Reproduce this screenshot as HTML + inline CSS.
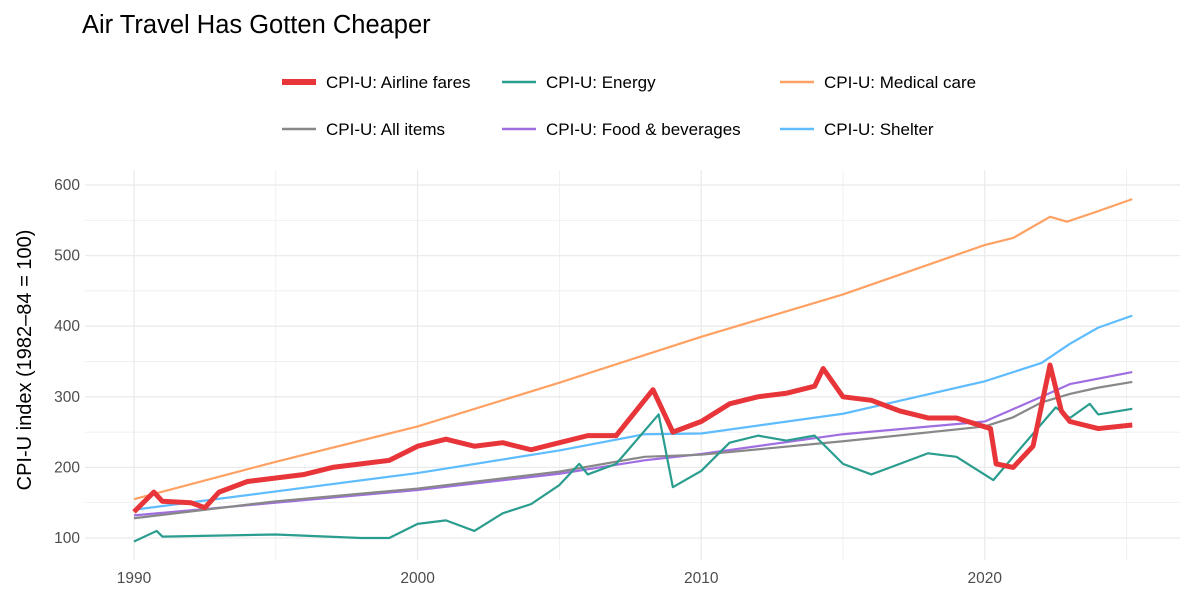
<!DOCTYPE html>
<html><head><meta charset="utf-8"><style>
body{margin:0;background:#fff;font-family:"Liberation Sans",Arial,sans-serif;}
svg text{font-family:"Liberation Sans",Arial,sans-serif;}
</style></head><body>
<svg id="chart" width="1200" height="600" xmlns="http://www.w3.org/2000/svg">
<text x="82" y="33" font-size="25.5" fill="#000">Air Travel Has Gotten Cheaper</text>
<g id="grid"></g>
<g id="series"></g>
<g id="axes"></g>
<text transform="translate(31,360) rotate(-90)" text-anchor="middle" font-size="20" fill="#000">CPI-U index (1982–84 = 100)</text>
<g id="legend"></g>
</svg>
<script>
const xTicks=[1990,2000,2010,2020];
const yTicks=[100,200,300,400,500,600];
const seriesNames=["CPI-U: Airline fares","CPI-U: Energy","CPI-U: Medical care","CPI-U: All items","CPI-U: Food & beverages","CPI-U: Shelter"];
const allYears=[1990,1995,2000,2005,2008,2010,2015,2020,2021,2022,2023,2024,2025.2];
const allVals=[128,152,170,194,215,218,237,258,271,292,304,313,321];
const foodYears=[1990,1995,2000,2005,2008,2010,2015,2020,2022,2023,2025.2];
const foodVals=[132,150,168,191,210,219,247,265,300,318,335];
const shelterYears=[1990,1995,2000,2005,2008,2010,2015,2020,2022,2023,2024,2025.2];
const shelterVals=[140,166,192,224,247,248,276,322,348,375,398,415];
const medYears=[1990,1995,2000,2005,2010,2015,2020,2021,2022.3,2022.9,2024,2025.2];
const medVals=[155,208,258,320,385,445,515,525,555,548,563,580];
const energyYears=[1990,1990.8,1991,1995,1998,1999,2000,2001,2002,2003,2004,2005,2005.7,2006,2007,2008.5,2009,2010,2011,2012,2013,2014,2015,2016,2017,2018,2019,2020.3,2021,2022.5,2023,2023.7,2024,2025.2];
const energyVals=[95,110,102,105,100,100,120,125,110,135,148,175,205,190,205,275,172,195,235,245,238,245,205,190,205,220,215,182,215,285,270,290,275,283];
const airYears=[1990,1990.7,1991,1992,1992.5,1993,1994,1995,1996,1997,1998,1999,2000,2001,2002,2003,2004,2005,2006,2007,2008.3,2009,2010,2011,2012,2013,2014,2014.3,2015,2016,2017,2018,2019,2020.2,2020.4,2021,2021.7,2022.3,2022.7,2023,2024,2025.2];
const airVals=[137,165,152,150,143,165,180,185,190,200,205,210,230,240,230,235,225,235,245,245,310,250,265,290,300,305,315,340,300,295,280,270,270,255,205,200,230,345,280,265,255,260];
const colors=["#e8353a","#2a9d8f","#ffa163","#888888","#a06ee0","#5ebcff"];
const NS="http://www.w3.org/2000/svg";
const X=y=>134+(y-1990)*28.36;
const Y=v=>538-(v-100)*0.706;
function mk(tag,attrs,parent){const e=document.createElementNS(NS,tag);for(const k in attrs)e.setAttribute(k,attrs[k]);parent.appendChild(e);return e;}
const grid=document.getElementById('grid'),axes=document.getElementById('axes');
for(let v=100;v<=600;v+=50){const l=mk('line',{x1:85,x2:1180,y1:Y(v),y2:Y(v),stroke:'#ebebeb','stroke-width':v%100?0.7:1.3},grid);

}
for(let y=1985;y<=2025;y+=5){const l=mk('line',{x1:X(y),x2:X(y),y1:170,y2:560,stroke:'#ebebeb','stroke-width':y%10?0.7:1.3},grid);

}
yTicks.forEach(v=>{const t=mk('text',{x:80,y:Y(v)+5,'text-anchor':'end','font-size':15.5,fill:'#4d4d4d'},axes);t.textContent=v;

});
xTicks.forEach(v=>{const t=mk('text',{x:X(v),y:583,'text-anchor':'middle','font-size':15.5,fill:'#4d4d4d'},axes);t.textContent=v;

});
const sg=document.getElementById('series');
function line(xs,vs,c,w,name){const p=mk('polyline',{points:xs.map((x,i)=>X(x)+','+Y(vs[i])).join(' '),fill:'none',stroke:c,'stroke-width':w,'stroke-linejoin':'round'},sg);

}
line(medYears,medVals,colors[2],2.2,'line-medical-care');
line(shelterYears,shelterVals,colors[5],2.2,'line-shelter');
line(foodYears,foodVals,colors[4],2.2,'line-food-beverages');
line(allYears,allVals,colors[3],2.2,'line-all-items');
line(energyYears,energyVals,colors[1],2.2,'line-energy');
line(airYears,airVals,colors[0],5,'line-airline-fares');
const lg=document.getElementById('legend');
const pos=[[282,82],[502,82],[780,82],[282,129],[502,129],[780,129]];
seriesNames.forEach((n,i)=>{const g=mk('g',{},lg);


mk('line',{x1:pos[i][0],x2:pos[i][0]+34,y1:pos[i][1],y2:pos[i][1],stroke:colors[i],'stroke-width':i==0?6:2.5},g);
const t=mk('text',{x:pos[i][0]+44,y:pos[i][1]+6,'font-size':17,fill:'#000'},g);t.textContent=n;});
</script>
</body></html>
